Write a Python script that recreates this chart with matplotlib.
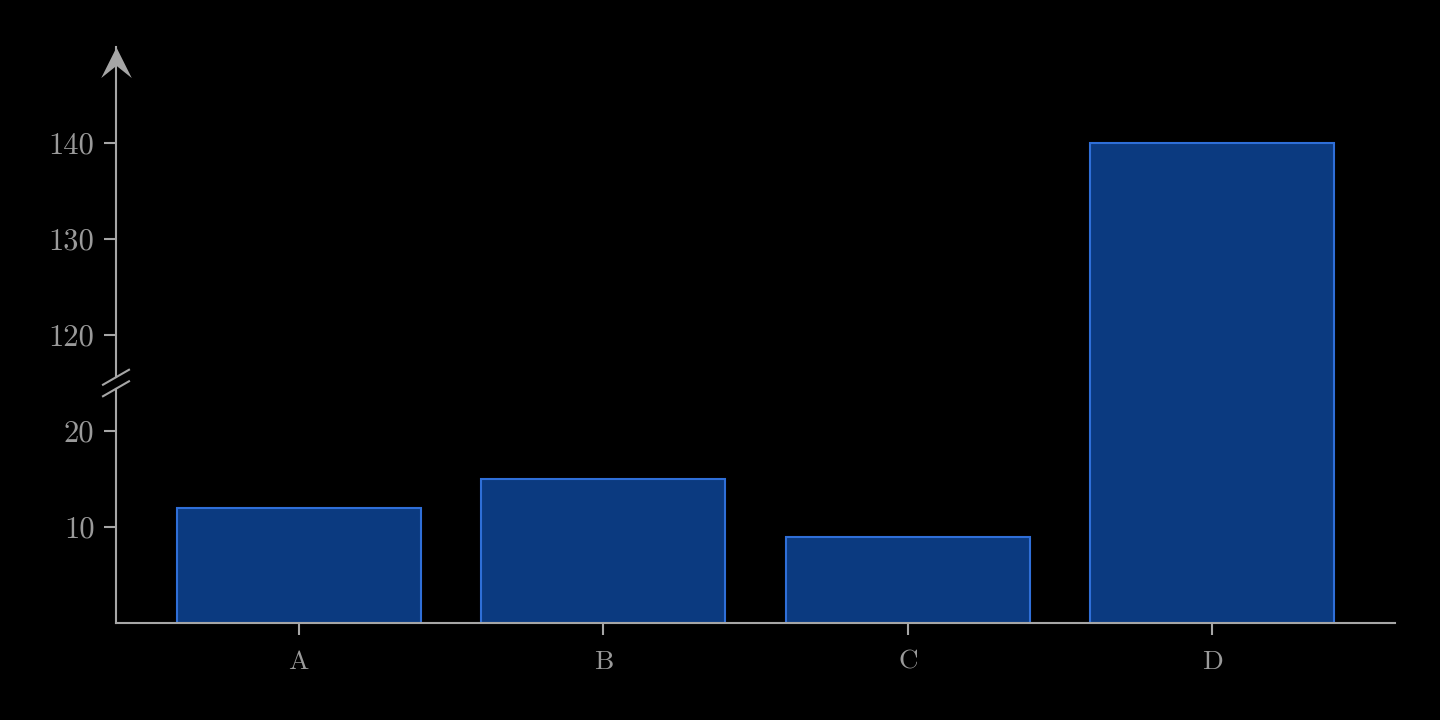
import matplotlib
matplotlib.use('Agg')
from matplotlib import pyplot as plt
from matplotlib.path import Path
from matplotlib import transforms

categories = ['A', 'B', 'C', 'D']
values = [12, 15, 9, 140]

# broken axis: lower part 0..25, upper part 115..150
lower_top = 25
upper_bottom = 115
gap = upper_bottom - lower_top
y_ticks = [10, 20, 120, 130, 140]


def squash(v):
    return v if v <= lower_top else v - gap


plt.rcParams['font.family'] = 'serif'
plt.rcParams['font.serif'] = ['cmr10', 'DejaVu Serif']
plt.rcParams['axes.formatter.use_mathtext'] = True

axis_grey = '#a6a6a6'
text_grey = '#9a9a9a'

figure = plt.figure(figsize=(14.4, 7.2), dpi=100, facecolor='black')
ax = figure.add_axes([116 / 1440, 97 / 720, 1279 / 1440, 576 / 720])
ax.set_facecolor('black')

x = list(range(len(categories)))
ax.bar(x, [squash(v) for v in values], width=0.8, color='#0b3a80',
       edgecolor='#2f6fd8', linewidth=1.5, zorder=2)

ax.set_xlim(-0.6, len(categories) - 0.4)
ax.set_ylim(0, squash(150))
ax.set_xticks(x)
ax.set_xticklabels(categories)
ax.set_yticks([squash(t) for t in y_ticks])
ax.set_yticklabels([str(t) for t in y_ticks])

for side in ['top', 'right', 'left']:
    ax.spines[side].set_visible(False)
ax.spines['bottom'].set_color(axis_grey)
ax.spines['bottom'].set_linewidth(1.5)
ax.tick_params(colors=axis_grey, labelcolor=text_grey, length=8.5, width=1.5)
ax.tick_params(axis='y', pad=7, labelsize=22)
ax.tick_params(axis='x', pad=11, labelsize=19.5)

# left axis line with a gap at the break
blend = transforms.blended_transform_factory(ax.transAxes, ax.transData)
ax.plot([0, 0], [0, lower_top - 0.6], color=axis_grey, lw=1.5,
        transform=blend, clip_on=False)
ax.plot([0, 0], [lower_top + 0.6, squash(150)], color=axis_grey, lw=1.5,
        transform=blend, clip_on=False)

# break marks
dx = 13 / 1279
dy = 0.78
for yc in [lower_top + 0.6, lower_top - 0.6]:
    ax.plot([-dx, dx], [yc - dy, yc + dy], color=axis_grey, lw=1.5,
            transform=blend, clip_on=False)

# arrow head on top of the y axis
head = Path([(0, 0), (0.5, -1), (0, -0.6), (-0.5, -1), (0, 0)],
            [Path.MOVETO, Path.LINETO, Path.LINETO, Path.LINETO, Path.CLOSEPOLY])
ax.plot([0], [squash(150)], marker=head, markersize=44, color=axis_grey,
        markeredgewidth=0, transform=blend, clip_on=False)

plt.savefig('out.png', dpi=100, facecolor='black')
